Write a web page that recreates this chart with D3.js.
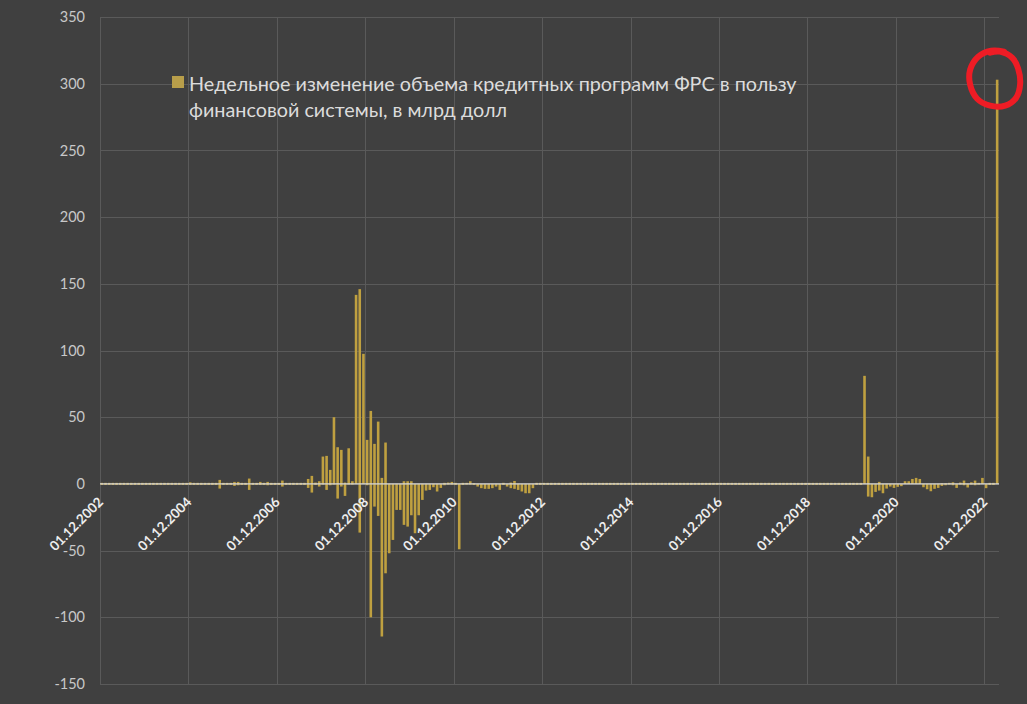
<!DOCTYPE html>
<html><head><meta charset="utf-8">
<script src="https://cdn.jsdelivr.net/npm/d3@7"></script>
<style>
html,body{margin:0;padding:0;background:#404040;}
svg{display:block}
</style></head><body>
<svg id="chart" width="1027" height="704"></svg>
<script>
// ---------- DATA ----------
const firstMonth = "2002-12";
const lastMonth = "2023-03";
const tickLabels = ["01.12.2002","01.12.2004","01.12.2006","01.12.2008","01.12.2010","01.12.2012","01.12.2014","01.12.2016","01.12.2018","01.12.2020","01.12.2022"];
const yTicks = [350,300,250,200,150,100,50,0,-50,-100,-150];
const legendLines = ["Недельное изменение объема кредитных программ ФРС в пользу","финансовой системы, в млрд долл"];

// largest weekly increase within each month (bn $), Dec 2002 .. Mar 2023
const gains = [
  0.8,
  0.8,0.8,0.8,0.8,0.8,0.8,0.8,0.8,0.8,0.8,0.8,0.8,        // 2003
  0.8,0.8,0.8,0.8,0.8,0.8,0.8,0.8,0.8,0.8,0.8,1.2,        // 2004
  0.8,0.8,0.8,0.8,0.8,0.8,0.8,3,0.8,0.8,0.8,1.5,          // 2005
  1.5,0.8,0.8,4,0.8,0.8,1.5,0.8,1.5,0.8,0.8,0.8,          // 2006
  2.5,0.8,0.8,0.8,0.8,0.8,0.8,3.7,6,1,2,20.5,             // 2007
  21,10.5,50,27.5,25.5,1,26.7,2,141.7,146,97.5,33,        // 2008
  54.7,30,46.7,4.5,31,0,0,0,0,2,2,2,                      // 2009
  0,0,0,0,0,0,0,0,0.8,1,1.5,0.8,                          // 2010
  0,0.8,0.8,2,0.5,0,0,0,0,0,0,0,                          // 2011
  0.8,0,1,2.2,0,0,0,0,0,0.8,0.8,0.8,                      // 2012
  0.8,0.8,0.8,0.8,0.8,0.8,0.8,0.8,0.8,0.8,0.8,0.8,        // 2013
  0.8,0.8,0.8,0.8,0.8,0.8,0.8,0.8,0.8,0.8,0.8,0.8,        // 2014
  0.8,0.8,0.8,0.8,0.8,0.8,0.8,0.8,0.8,0.8,0.8,0.8,        // 2015
  0.8,0.8,0.8,0.8,0.8,0.8,0.8,0.8,0.8,0.8,0.8,0.8,        // 2016
  0.8,0.8,0.8,0.8,0.8,0.8,0.8,0.8,0.8,0.8,0.8,0.8,        // 2017
  0.8,0.8,0.8,0.8,0.8,0.8,0.8,0.8,0.8,0.8,0.8,0.8,        // 2018
  0.8,0.8,0.8,0.8,0.8,0.8,0.8,0.8,0.8,0.8,0.8,0.8,        // 2019
  0.8,0.8,81,20.5,0,0,1.5,0,0,0,0,0,                      // 2020
  0,2,2,3.7,4.5,3.7,0,0,0,0,0,0.5,                        // 2021
  0.5,0.8,1.2,0,1,2.5,0,1.2,2.5,0.8,4.5,0,                // 2022
  0.8,0.8,303                                             // 2023
];
// largest weekly decrease within each month (bn $)
const drops = [
  -0.8,
  -0.8,-0.8,-0.8,-0.8,-0.8,-0.8,-0.8,-0.8,-0.8,-0.8,-0.8,-0.8,   // 2003
  -0.8,-0.8,-0.8,-0.8,-0.8,-0.8,-0.8,-0.8,-0.8,-0.8,-0.8,-0.8,   // 2004
  -0.8,-0.8,-0.8,-0.8,-0.8,-0.8,-0.8,-3.5,-0.8,-0.8,-0.8,-1.5,   // 2005
  -1,-0.8,-0.8,-4.5,-0.8,-0.8,-0.8,-0.8,-1,-0.8,-0.8,-0.8,       // 2006
  -2,-0.8,-0.8,-0.8,-0.8,-0.8,-0.8,-3,-6.5,-0.8,-2,-0.5,         // 2007
  -4.5,-1,-0.5,-11,-2,-9,-0.5,-0.5,0,-36.5,0,-1,                 // 2008
  -100,-17,-24,-114.4,-67,-52,-42,-19.5,-19.5,-30.7,-32,-23.5,   // 2009
  -37,-23.5,-12,-5,-4.5,-2.5,-5.7,-3,-1,-0.5,-0.5,-0.8,          // 2010
  -49,-0.8,-0.5,-0.5,-0.8,-2,-3.2,-3.7,-3.7,-3.2,-2,-4.5,        // 2011
  -0.8,-2,-3.2,-3.7,-4.5,-5.7,-7,-7,-3.2,-0.8,-0.8,-0.8,         // 2012
  -0.8,-0.8,-0.8,-0.8,-0.8,-0.8,-0.8,-0.8,-0.8,-0.8,-0.8,-0.8,   // 2013
  -0.8,-0.8,-0.8,-0.8,-0.8,-0.8,-0.8,-0.8,-0.8,-0.8,-0.8,-0.8,   // 2014
  -0.8,-0.8,-0.8,-0.8,-0.8,-0.8,-0.8,-0.8,-0.8,-0.8,-0.8,-0.8,   // 2015
  -0.8,-0.8,-0.8,-0.8,-0.8,-0.8,-0.8,-0.8,-0.8,-0.8,-0.8,-0.8,   // 2016
  -0.8,-0.8,-0.8,-0.8,-0.8,-0.8,-0.8,-0.8,-0.8,-0.8,-0.8,-0.8,   // 2017
  -0.8,-0.8,-0.8,-0.8,-0.8,-0.8,-0.8,-0.8,-0.8,-0.8,-0.8,-0.8,   // 2018
  -0.8,-0.8,-0.8,-0.8,-0.8,-0.8,-0.8,-0.8,-0.8,-0.8,-0.8,-0.8,   // 2019
  -0.8,-0.8,0,-9.5,-10,-6,-5,-7,-3.5,-2,-3,-2.2,                 // 2020
  -1.7,0,0,0,0,0,-2.5,-4,-5.5,-3.7,-3,-1.5,                      // 2021
  -1,-0.5,-1,-3,-0.5,-1,-2.7,-0.5,-1,-0.5,0,-3.2,                // 2022
  -0.8,-0.8,0                                                    // 2023
];

// ---------- LAYOUT ----------
const W = 1027, H = 704;
const plot = {left: 100, right: 999, top: 17, bottom: 684};
const barColor = "#bfa040";
const gridColor = "#5a5a5a";
const font = "Lato, 'Liberation Sans', Arial, sans-serif";

const fmtKey = d3.timeFormat("%Y-%m");
const parseKey = d3.timeParse("%Y-%m");
const parseLabel = d3.timeParse("%d.%m.%Y");
const months = d3.timeMonth.range(parseKey(firstMonth), d3.timeMonth.offset(parseKey(lastMonth), 1)).map(fmtKey);

const PAD = 0.3;
const x = d3.scaleBand().domain(months).range([plot.left, plot.right]).paddingInner(PAD).paddingOuter(PAD / 2);
const y = d3.scaleLinear().domain([-150, 350]).range([plot.bottom, plot.top]);
const boundary = k => x(k) - x.step() * PAD / 2;

const svg = d3.select("#chart");
svg.append("rect").attr("width", W).attr("height", H).attr("fill", "#404040");

// horizontal gridlines + y labels
const yAxis = d3.axisLeft(y).tickValues(yTicks).tickSize(-(plot.right - plot.left)).tickPadding(15).tickFormat(d3.format("d"));
const gy = svg.append("g").attr("transform", `translate(${plot.left},0)`).call(yAxis);
gy.select(".domain").remove();
gy.selectAll(".tick line").attr("stroke", gridColor).attr("stroke-width", 1).attr("shape-rendering", "crispEdges");
gy.selectAll(".tick text").attr("fill", "#c8c8c8").style("font-family", font).style("font-size", "14.5px").text(d => d < 0 ? "-" + Math.abs(d) : d);

// vertical gridlines
const tickKeys = tickLabels.map(l => fmtKey(parseLabel(l)));
svg.append("g").selectAll("line").data(tickKeys).join("line")
  .attr("x1", d => Math.round(boundary(d)) + 0.5).attr("x2", d => Math.round(boundary(d)) + 0.5)
  .attr("y1", plot.top).attr("y2", plot.bottom)
  .attr("stroke", gridColor).attr("stroke-width", 1);

// bars
const rows = months.map((m, i) => ({m, g: gains[i], d: drops[i]}));
const gb = svg.append("g").attr("fill", barColor);
gb.selectAll("rect.up").data(rows.filter(r => r.g > 0)).join("rect").attr("class", "up")
  .attr("x", r => x(r.m)).attr("width", x.bandwidth())
  .attr("y", r => y(r.g)).attr("height", r => y(0) - y(r.g));
gb.selectAll("rect.down").data(rows.filter(r => r.d < 0)).join("rect").attr("class", "down")
  .attr("x", r => x(r.m)).attr("width", x.bandwidth())
  .attr("y", y(0)).attr("height", r => y(r.d) - y(0));

// zero axis line
svg.append("line").attr("x1", plot.left).attr("x2", plot.right)
  .attr("y1", y(0)).attr("y2", y(0)).attr("stroke", "#dadada").attr("stroke-width", 1.2);

// x labels (rotated)
svg.append("g").selectAll("text").data(tickLabels).join("text")
  .attr("transform", l => `translate(${boundary(fmtKey(parseLabel(l))) + 4},${y(0) + 19}) rotate(-45)`)
  .attr("text-anchor", "end")
  .attr("fill", "#eeeeee").style("font-family", font).style("font-weight", "bold").style("font-size", "13.5px")
  .text(l => l);

// legend
const lg = svg.append("g");
lg.append("rect").attr("x", 172).attr("y", 76).attr("width", 12).attr("height", 12).attr("fill", "#b89e4a");
const lt = lg.selectAll("text").data(legendLines).join("text")
  .attr("x", 189).attr("y", (d, i) => 91 + i * 26)
  .attr("fill", "#dcdcdc").style("font-family", font).style("font-size", "18px")
  .text(d => d);
const len0 = lt.nodes()[0].getComputedTextLength();
lt.style("font-size", (18 * 608 / len0).toFixed(2) + "px");

// red hand-drawn circle around last bar
const lastKey = months[months.length - 1];
const cx = x(lastKey) + x.bandwidth() / 2 - 3, cy = y(gains[gains.length - 1]) - 1;
const loop = [[10,-27],[-3,-28],[-16,-22],[-24,-9],[-24,6],[-17,20],[-4,27],[11,27],[22,19],[26,5],[24,-10],[18,-21],[6,-27],[-4,-26]];
svg.append("path")
  .attr("d", d3.line().curve(d3.curveCardinal)(loop.map(p => [cx + p[0], cy + p[1]])))
  .attr("fill", "none").attr("stroke", "#ee1c25").attr("stroke-width", 6).attr("stroke-linecap", "round");
</script>
</body></html>
